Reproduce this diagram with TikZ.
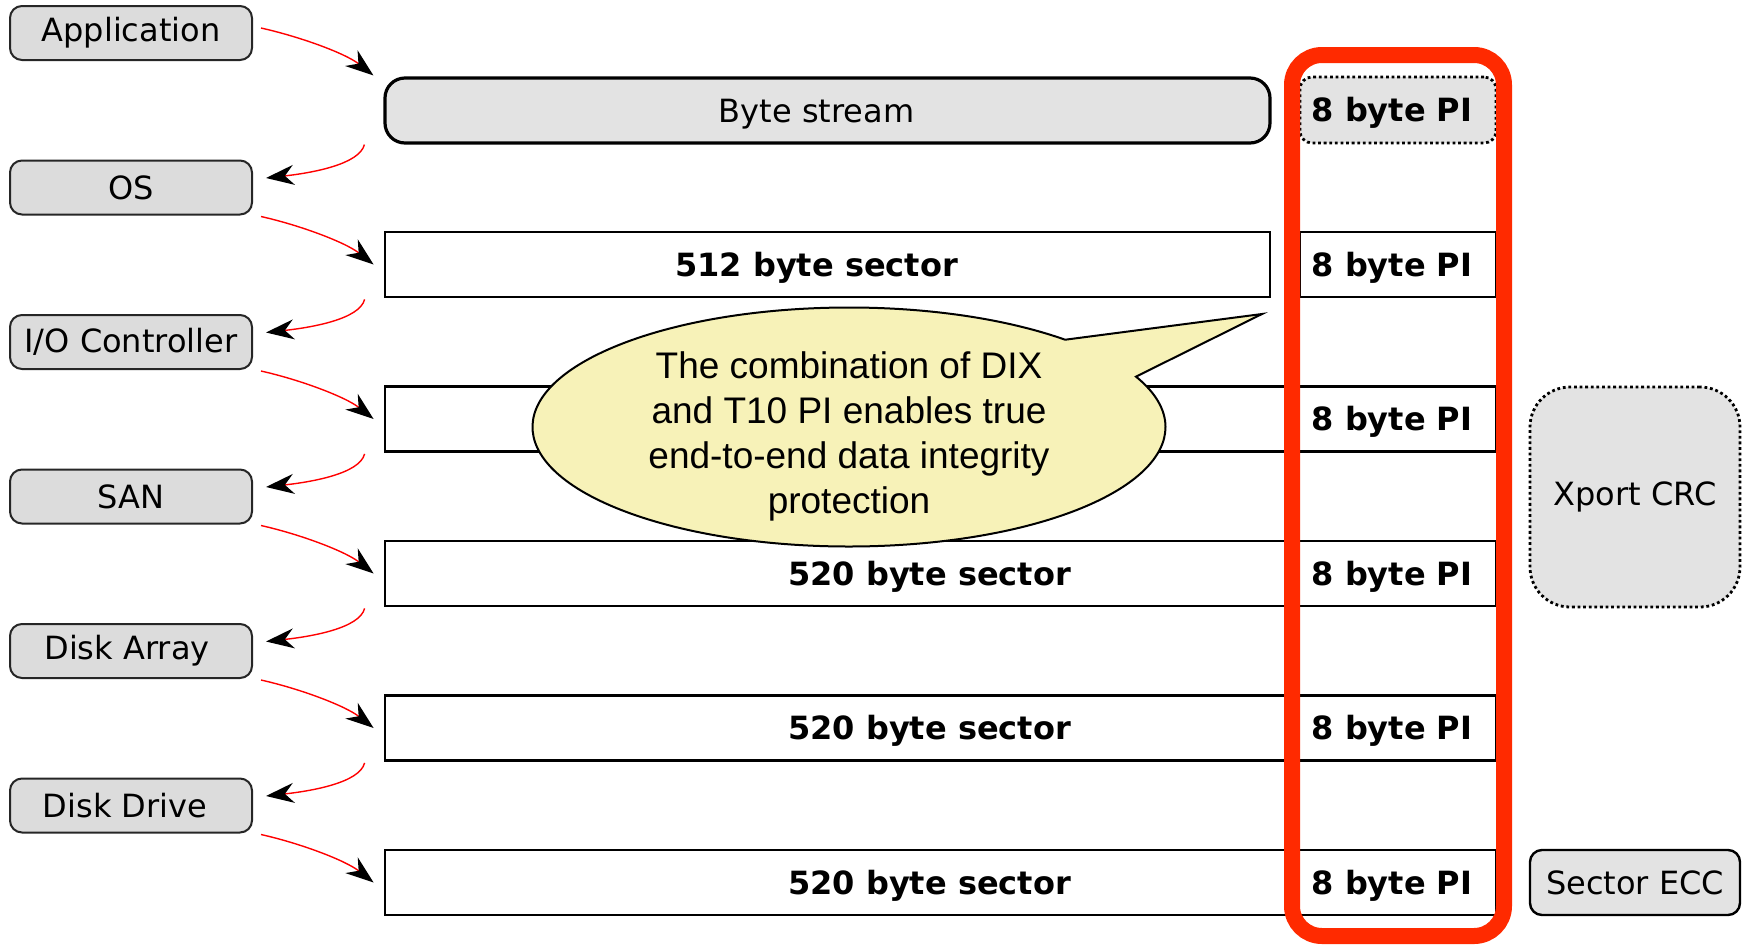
\documentclass[tikz,border=0pt]{standalone}
\usepackage{fontspec}
\setmainfont{DejaVu Sans}
\newfontfamily\calloutfont{Liberation Sans}
\usetikzlibrary{arrows.meta,shapes.callouts}
\definecolor{layergray}{HTML}{DCDCDC}
\definecolor{streamgray}{HTML}{E3E3E3}
\definecolor{bubbleyellow}{HTML}{F7F2B8}
\definecolor{bandred}{HTML}{FF2A00}

\begin{document}
\begin{tikzpicture}[x=0.5pt, y=-0.5pt,
	layer/.style={draw=black!85, line width=1pt, fill=layergray, rounded corners=6pt, minimum width=121pt, minimum height=27pt, inner sep=0pt, font=\fontsize{16}{19}\selectfont},
	sector/.style={draw, line width=1.4pt, minimum height=32.5pt, inner sep=0pt, text height=13pt, text depth=1.5pt, execute at end node=\hspace*{11pt}, font=\bfseries\fontsize{16}{19}\selectfont},
	picell/.style={minimum width=98pt, minimum height=32.5pt, inner sep=0pt, text height=13pt, text depth=1.5pt, execute at end node=\hspace*{6pt}, font=\bfseries\fontsize{16}{19}\selectfont},
	dots/.style={draw, line width=1.4pt, dash pattern=on 1.4pt off 1.4pt, fill=streamgray},
	flow/.style={red, line width=0.7pt, -{Stealth[length=14pt, width=10pt, inset=4.5pt, color=black]}}]
\useasboundingbox (0,0) rectangle (1747,944);

\node[layer] (app)   at (131,33)    {Application};
\node[layer] (os)    at (131,187.5) {OS};
\node[layer] (ioc)   at (131,342)   {I/O Controller};
\node[layer] (san)   at (131,496.5) {SAN};
\node[layer] (array) at (131,651)   {Disk Array\hspace*{4pt}};
\node[layer] (drive) at (131,805.5) {Disk Drive\hspace*{6pt}};

\node[sector, rounded corners=10pt, fill=streamgray, line width=1.6pt, font=\fontsize{16}{19}\selectfont, minimum width=442.5pt] (stream) at (827.5,110.5) {Byte stream};
\node[sector, minimum width=442.5pt] (sec512)  at (827.5,264.5) {512 byte sector};
\node[sector, minimum width=555.5pt] (sec520a) at (940.5,419)   {};
\node[sector, minimum width=555.5pt] (sec520b) at (940.5,573.5) {520 byte sector};
\node[sector, minimum width=555.5pt] (sec520c) at (940.5,728)   {520 byte sector};
\node[sector, minimum width=555.5pt] (sec520d) at (940.5,882.5) {520 byte sector};

\node[picell, dots, rounded corners=6pt, minimum height=33pt] (pi0) at (1398,110) {8 byte PI};
\node[picell, draw, line width=1.4pt] (pi1) at (1398,264.5) {8 byte PI};
\node[picell] (pi2) at (1398,419)   {8 byte PI};
\node[picell] (pi3) at (1398,573.5) {8 byte PI};
\node[picell] (pi4) at (1398,728)   {8 byte PI};
\node[picell] (pi5) at (1398,882.5) {8 byte PI};

\node[dots, rounded corners=20pt, minimum width=105pt, minimum height=110pt, font=\fontsize{16}{19}\selectfont] (xport) at (1635,497) {Xport CRC};
\node[draw, line width=1.2pt, fill=streamgray, rounded corners=6pt, minimum width=105pt, minimum height=32.5pt, inner sep=0pt, font=\fontsize{16}{19}\selectfont] (ecc) at (1635,882.5) {Sector ECC};

% layer to layer
\draw[flow] ([shift={(8,-5)}]app.east) .. controls +(40,9) and +(-28,-22) .. ([shift={(-10,-1)}]stream.north west);
\draw[flow] ([shift={(-19,0)}]stream.south west) .. controls +(-5,20) and +(45,-5) .. ([shift={(13,-9.5)}]os.east);
\draw[flow] ([shift={(8,1)}]os.south east) .. controls +(40,9) and +(-28,-22) .. ([shift={(-10,0)}]sec512.west);
\draw[flow] ([shift={(-19,1)}]sec512.south west) .. controls +(-5,20) and +(45,-5) .. ([shift={(13,-9.5)}]ioc.east);
\draw[flow] ([shift={(8,1)}]ioc.south east) .. controls +(40,9) and +(-28,-22) .. ([shift={(-10,0)}]sec520a.west);
\draw[flow] ([shift={(-19,1)}]sec520a.south west) .. controls +(-5,20) and +(45,-5) .. ([shift={(13,-9.5)}]san.east);
\draw[flow] ([shift={(8,1)}]san.south east) .. controls +(40,9) and +(-28,-22) .. ([shift={(-10,0)}]sec520b.west);
\draw[flow] ([shift={(-19,1)}]sec520b.south west) .. controls +(-5,20) and +(45,-5) .. ([shift={(13,-9.5)}]array.east);
\draw[flow] ([shift={(8,1)}]array.south east) .. controls +(40,9) and +(-28,-22) .. ([shift={(-10,0)}]sec520c.west);
\draw[flow] ([shift={(-19,1)}]sec520c.south west) .. controls +(-5,20) and +(45,-5) .. ([shift={(13,-9.5)}]drive.east);
\draw[flow] ([shift={(8,1)}]drive.south east) .. controls +(40,9) and +(-28,-22) .. ([shift={(-10,0)}]sec520d.west);

% callout
\node[ellipse callout, draw, line width=1pt, fill=bubbleyellow, minimum width=316.5pt, minimum height=119.5pt, callout absolute pointer={(1262,314)}, callout pointer arc=22] (bubble) at (849,427) {};
\node[font=\calloutfont\fontsize{18.5}{22.5}\selectfont, align=center, inner sep=0pt] (note) at (849,436.5) {The combination of DIX\\and T10 PI enables true\\end-to-end data integrity\\protection};

\draw[bandred, line width=8pt, rounded corners=15pt] (1292,55) rectangle (1504,936);
\end{tikzpicture}
\end{document}
